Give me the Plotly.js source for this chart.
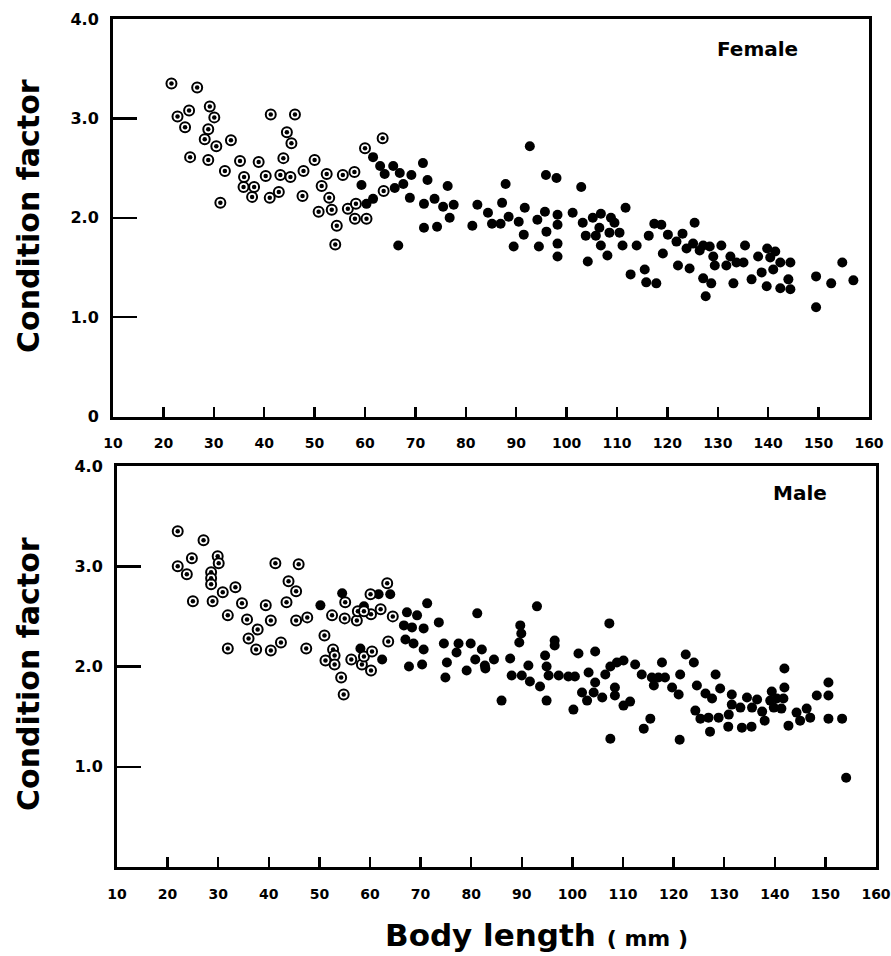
<!DOCTYPE html>
<html>
<head>
<meta charset="utf-8">
<script src="https://cdn.plot.ly/plotly-3.0.1.min.js"></script>
<style>
html,body{margin:0;padding:0;background:#fff;}
#chart{width:891px;height:956px;}
</style>
</head>
<body>
<div id="chart"></div>
<script>
// ---------- DATA ----------
const xTickVals = [10,20,30,40,50,60,70,80,90,100,110,120,130,140,150,160];
const xTickText = ["10","20","30","40","50","60","70","80","90","100","110","120","130","140","150","160"];
const yTickValsTop = [0,1,2,3,4];
const yTickTextTop = ["0","1.0","2.0","3.0","4.0"];
const yTickValsBottom = [1,2,3,4];
const yTickTextBottom = ["1.0","2.0","3.0","4.0"];

// Female, immature (open circles with dot)
const femaleImmX = [21.6,26.7,22.8,25.1,24.3,29.2,30.1,28.9,28.2,30.5,33.4,25.3,28.9,32.2,31.3,41.3,46.1,44.5,45.4,43.8,
  35.2,38.9,36.0,35.9,38.0,37.6,40.3,41.1,43.2,45.2,42.9,47.8,47.6,50.0,52.4,51.4,52.9,50.8,53.4,54.4,
  54.1,55.6,57.9,56.6,58.2,58.0,60.3,60.0,63.5,63.7];
const femaleImmY = [3.35,3.31,3.02,3.08,2.91,3.12,3.01,2.89,2.79,2.72,2.78,2.61,2.58,2.47,2.15,3.04,3.04,2.86,2.75,2.60,
  2.57,2.56,2.41,2.31,2.31,2.21,2.42,2.20,2.43,2.41,2.26,2.47,2.22,2.58,2.44,2.32,2.20,2.06,2.08,1.92,
  1.73,2.43,2.46,2.09,2.14,1.99,1.99,2.70,2.80,2.27];

// Female, mature (filled circles)
const femaleMatX = [59.3,61.6,63.0,63.9,65.6,66.9,65.9,67.6,69.2,71.5,72.4,76.4,68.9,71.7,73.8,75.5,77.6,76.8,71.7,74.3,
  66.6,60.3,61.6,81.3,82.3,84.4,85.2,
  92.7,87.9,95.9,98.0,102.9,87.2,86.9,88.5,90.5,91.7,91.5,89.5,94.2,95.7,96.0,94.5,98.2,98.2,98.2,98.2,
  101.2,103.2,103.8,104.2,105.2,106.8,106.5,105.8,106.8,108.1,108.8,109.5,108.5,110.5,111.1,111.7,113.9,112.7,115.5,115.8,
  117.8,116.3,117.4,118.8,119.1,120.1,121.8,123.0,122.1,124.4,123.8,125.4,125.1,126.4,127.1,128.4,129.1,130.7,129.4,127.1,
  128.7,127.6,131.7,132.5,133.7,133.1,135.4,135.1,136.7,138.0,139.8,141.4,140.4,138.7,139.7,141.0,142.4,144.4,144.0,142.4,
  144.4,149.5,149.5,152.5,154.7,156.9];
const femaleMatY = [2.33,2.61,2.52,2.44,2.52,2.45,2.30,2.34,2.43,2.55,2.38,2.32,2.20,2.14,2.19,2.11,2.13,2.00,1.90,1.91,
  1.72,2.14,2.19,1.92,2.13,2.05,1.94,
  2.72,2.34,2.43,2.40,2.31,2.15,1.94,2.01,1.96,2.10,1.83,1.71,1.98,2.06,1.86,1.71,2.03,1.93,1.74,1.61,
  2.05,1.95,1.82,1.56,2.00,2.04,1.90,1.82,1.72,1.62,2.00,1.95,1.85,1.85,1.72,2.10,1.72,1.43,1.48,1.35,
  1.34,1.82,1.94,1.93,1.64,1.83,1.76,1.84,1.52,1.49,1.69,1.95,1.74,1.67,1.72,1.71,1.61,1.72,1.52,1.39,
  1.34,1.21,1.52,1.61,1.55,1.34,1.72,1.55,1.38,1.61,1.69,1.66,1.60,1.45,1.31,1.48,1.55,1.55,1.38,1.29,
  1.28,1.41,1.10,1.34,1.55,1.37];

// Male, immature (open circles with dot)
const maleImmX = [22.0,27.1,22.0,24.8,23.8,29.9,30.1,28.6,28.6,28.6,30.9,33.4,25.0,28.9,31.9,31.9,41.3,45.9,43.9,45.4,
  43.5,34.7,39.4,35.7,37.8,36.0,37.5,40.4,40.4,42.4,45.4,47.6,47.4,51.0,52.5,55.0,55.1,57.4,57.6,52.7,
  53.0,51.2,53.0,54.3,54.8,56.3,58.4,60.2,58.8,60.4,60.1,60.2,62.1,63.4,64.5,63.6,58.8];
const maleImmY = [3.35,3.26,3.00,3.08,2.92,3.10,3.03,2.94,2.88,2.82,2.74,2.79,2.65,2.65,2.51,2.18,3.03,3.02,2.85,2.75,
  2.64,2.63,2.61,2.47,2.37,2.28,2.17,2.46,2.16,2.24,2.46,2.49,2.18,2.31,2.51,2.48,2.64,2.46,2.55,2.17,
  2.11,2.06,2.02,1.89,1.72,2.07,2.02,1.96,2.10,2.15,2.72,2.52,2.57,2.83,2.50,2.25,2.55];

// Male, mature (filled circles)
const maleMatX = [54.5,50.2,58.8,61.7,64.0,58.1,62.4,67.3,69.3,66.7,68.3,70.6,67.0,68.6,70.6,67.7,70.3,71.3,73.6,74.6,
  75.2,74.9,77.5,77.1,79.9,79.1,81.2,80.8,82.1,82.8,84.5,
  93.0,89.7,89.9,89.5,96.5,96.5,107.3,101.2,104.5,82.7,87.7,91.3,94.6,94.9,88.0,90.0,91.6,93.6,95.3,97.3,
  99.2,100.5,94.9,86.0,100.2,103.2,101.9,102.9,104.2,105.9,104.5,106.5,107.5,108.8,110.1,108.4,108.4,110.1,111.4,107.5,
  112.4,113.7,115.7,117.7,117.0,116.1,118.3,119.7,121.0,121.3,114.1,115.4,121.2,122.4,124.0,124.6,126.3,127.6,128.3,129.2,
  124.3,125.3,126.9,127.2,128.9,130.9,130.8,131.5,131.5,133.2,133.5,134.5,135.5,136.5,137.5,135.4,138.0,139.4,139.1,140.4,
  139.8,141.9,141.9,141.7,141.3,142.7,144.3,145.0,146.3,147.0,148.3,150.6,150.6,150.6,153.3,154.1];
const maleMatY = [2.73,2.61,2.60,2.72,2.72,2.18,2.07,2.54,2.51,2.41,2.39,2.38,2.27,2.23,2.17,2.00,2.02,2.63,2.44,2.23,
  2.04,1.89,2.23,2.14,2.23,1.96,2.53,2.07,2.17,1.98,2.07,
  2.60,2.41,2.33,2.24,2.26,2.21,2.43,2.13,2.15,2.01,2.08,2.01,2.11,2.00,1.91,1.91,1.85,1.80,1.91,1.91,
  1.90,1.90,1.66,1.66,1.57,1.94,1.74,1.66,1.74,1.69,1.84,1.92,2.00,2.04,2.06,1.79,1.71,1.61,1.65,1.28,
  2.02,1.92,1.89,2.04,1.89,1.81,1.89,1.79,1.72,1.92,1.38,1.48,1.27,2.12,2.04,1.81,1.73,1.68,1.92,1.78,
  1.56,1.48,1.49,1.35,1.49,1.52,1.40,1.72,1.62,1.59,1.39,1.69,1.59,1.67,1.55,1.40,1.46,1.75,1.66,1.68,
  1.59,1.98,1.79,1.68,1.58,1.41,1.54,1.46,1.58,1.49,1.71,1.84,1.71,1.48,1.48,0.89];

// ---------- STYLE ----------
const FONT = "DejaVu Sans";
const ringStyle = {symbol:"circle", size:10, color:"#ffffff", line:{color:"#000", width:2}};
const dotStyle = {symbol:"circle", size:4.5, color:"#000", line:{width:0}};
const fillStyle = {symbol:"circle", size:10, color:"#000", line:{width:0}};

function tr(x, y, marker, xa, ya){
  return {type:"scatter", mode:"markers", x:x, y:y, xaxis:xa, yaxis:ya, marker:marker, hoverinfo:"skip", showlegend:false};
}

const data = [
  tr(femaleMatX, femaleMatY, fillStyle, "x", "y"),
  tr(femaleImmX, femaleImmY, ringStyle, "x", "y"),
  tr(femaleImmX, femaleImmY, dotStyle, "x", "y"),
  tr(maleMatX, maleMatY, fillStyle, "x2", "y2"),
  tr(maleImmX, maleImmY, ringStyle, "x2", "y2"),
  tr(maleImmX, maleImmY, dotStyle, "x2", "y2")
];

const W = 891, H = 956;
function px(v){ return v / W; }
function py(v){ return (H - v) / H; }

function xAxis(domain, anchor){
  return {
    domain: domain, anchor: anchor, range: [10,160],
    tickmode: "array", tickvals: xTickVals, ticktext: xTickText,
    ticks: "inside", ticklen: 10, tickwidth: 2.5, tickcolor: "#000",
    showline: true, linecolor: "#000", linewidth: 3, mirror: true,
    showgrid: false, zeroline: false, ticklabelstandoff: 12,
    tickfont: {family: FONT, size: 14, color: "#000", weight: "bold"}
  };
}
function yAxis(domain, anchor, vals, text){
  return {
    domain: domain, anchor: anchor, range: [0,4],
    tickmode: "array", tickvals: vals, ticktext: text,
    ticks: "inside", ticklen: 24, tickwidth: 2.5, tickcolor: "#000",
    showline: true, linecolor: "#000", linewidth: 3, mirror: true,
    showgrid: false, zeroline: false, ticklabelstandoff: 8,
    tickfont: {family: FONT, size: 16, color: "#000", weight: "bold"}
  };
}

function ann(x, y, text, size, angle){
  return {xref:"paper", yref:"paper", x:px(x), y:py(y), xanchor:"center", yanchor:"middle",
    text:text, textangle:angle || 0, showarrow:false,
    font:{family:FONT, size:size, color:"#000", weight:"bold"}};
}

const layout = {
  width: W, height: H,
  margin: {l:0, r:0, t:0, b:0, pad:0},
  paper_bgcolor: "#fff", plot_bgcolor: "#fff",
  showlegend: false,
  xaxis: xAxis([px(113), px(869)], "y"),
  yaxis: yAxis([py(416.5), py(19)], "x", yTickValsTop, yTickTextTop),
  xaxis2: xAxis([px(117), px(876)], "y2"),
  yaxis2: yAxis([py(867), py(466)], "x2", yTickValsBottom, yTickTextBottom),
  annotations: [
    ann(757, 49, "Female", 20),
    ann(800, 493, "Male", 20),
    ann(28, 216, "Condition factor", 30, -90),
    ann(28, 674, "Condition factor", 30, -90),
    ann(536, 935, "Body length <span style='font-size:22px'>( mm )</span>", 31)
  ]
};

Plotly.newPlot("chart", data, layout, {staticPlot:true, displayModeBar:false});
</script>
</body>
</html>
